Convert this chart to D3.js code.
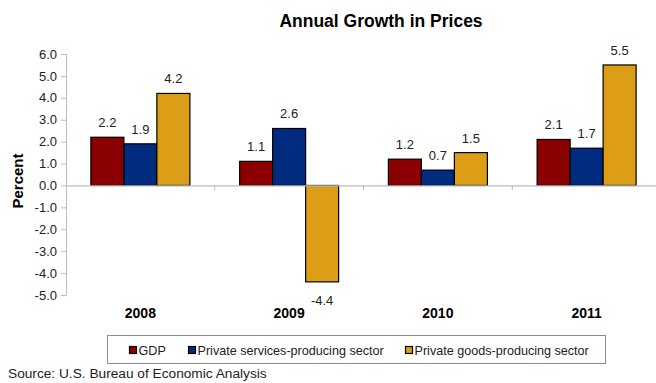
<!DOCTYPE html>
<html>
<head>
<meta charset="utf-8">
<script src="https://cdn.jsdelivr.net/npm/d3@7"></script>
<style>
  html, body { margin: 0; padding: 0; background: #fff; }
  svg { display: block; font-family: "Liberation Sans", Arial, sans-serif; }
</style>
</head>
<body>
<svg id="chart" width="656" height="383"></svg>
<script>
// Annual growth in prices by sector, percent
const years = ["2008", "2009", "2010", "2011"];
const seriesNames = ["GDP", "Private services-producing sector", "Private goods-producing sector"];
const gdp = [2.2, 1.1, 1.2, 2.1];
const services = [1.9, 2.6, 0.7, 1.7];
const goods = [4.2, -4.4, 1.5, 5.5];
const colors = ["#8b0000", "#002b7f", "#db9e16"];
const yTicks = [6, 5, 4, 3, 2, 1, 0, -1, -2, -3, -4, -5];

const seriesValues = [gdp, services, goods];
const rows = years.flatMap((yr, i) =>
  seriesNames.map((s, j) => ({ year: yr, series: s, idx: j, value: seriesValues[j][i] })));

const svg = d3.select("#chart");
const plotLeft = 66, plotRight = 661, plotTop = 54, plotBottom = 295;

const x = d3.scaleBand().domain(years).range([plotLeft, plotRight]);
const inner = d3.scaleBand().domain(seriesNames).range([0, 99]);
const groupOffset = (x.bandwidth() - 99) / 2;
const y = d3.scaleLinear().domain([-5, 6]).range([plotBottom, plotTop]);
const fmt = v => d3.format(".1f")(v).replace("\u2212", "-");

// Title
svg.append("text")
  .attr("x", 381).attr("y", 27)
  .attr("text-anchor", "middle")
  .attr("font-size", 17.5).attr("font-weight", "bold").attr("fill", "#000")
  .text("Annual Growth in Prices");

// Y axis
const yAxis = svg.append("g")
  .attr("transform", `translate(${plotLeft},0)`)
  .call(d3.axisLeft(y).tickValues(yTicks).tickFormat(fmt).tickSize(5).tickPadding(4));
yAxis.select(".domain").attr("stroke", "#bdbdbd");
yAxis.selectAll(".tick line").attr("stroke", "#bdbdbd");
yAxis.selectAll(".tick text")
  .attr("font-size", 13).attr("fill", "#222")
  .attr("font-family", "'Liberation Sans', Arial, sans-serif");

// Y axis title
svg.append("text")
  .attr("transform", "translate(23,181) rotate(-90)")
  .attr("text-anchor", "middle")
  .attr("font-size", 15).attr("font-weight", "bold").attr("fill", "#000")
  .text("Percent");

// Bars
svg.append("g").selectAll("rect")
  .data(rows)
  .join("rect")
  .attr("x", d => x(d.year) + groupOffset + inner(d.series))
  .attr("width", inner.bandwidth())
  .attr("y", d => y(Math.max(0, d.value)))
  .attr("height", d => Math.abs(y(d.value) - y(0)))
  .attr("fill", d => colors[d.idx])
  .attr("stroke", "#000").attr("stroke-width", 1.2);

// Zero baseline with category separator ticks
const xAxis = svg.append("g")
  .attr("transform", `translate(0,${y(0)})`)
  .call(d3.axisBottom(x).tickValues([]).tickSizeOuter(0));
xAxis.select(".domain").attr("stroke", "#bdbdbd").attr("stroke-width", 1.2);
svg.append("g").selectAll("line")
  .data(years.slice(1))
  .join("line")
  .attr("x1", d => x(d)).attr("x2", d => x(d))
  .attr("y1", y(0)).attr("y2", y(0) + 5)
  .attr("stroke", "#bdbdbd");

// Value labels
svg.append("g").selectAll("text")
  .data(rows)
  .join("text")
  .attr("x", d => x(d.year) + groupOffset + inner(d.series) + inner.bandwidth() / 2)
  .attr("y", d => d.value >= 0 ? y(d.value) - 10 : y(d.value) + 23)
  .attr("text-anchor", "middle")
  .attr("font-size", 13).attr("fill", "#222")
  .text(d => fmt(d.value));

// Category labels
svg.append("g").selectAll("text")
  .data(years)
  .join("text")
  .attr("x", d => x(d) + x.bandwidth() / 2)
  .attr("y", 318)
  .attr("text-anchor", "middle")
  .attr("font-size", 14).attr("font-weight", "bold").attr("fill", "#000")
  .text(d => d);

// Legend
const legend = svg.append("g");
legend.append("rect")
  .attr("x", 107.5).attr("y", 335.5).attr("width", 498).attr("height", 28)
  .attr("fill", "#fff").attr("stroke", "#8c8c8c");
const legendX = [129, 188, 405];
const items = legend.selectAll("g.item")
  .data(seriesNames)
  .join("g").attr("class", "item")
  .attr("transform", (d, i) => `translate(${legendX[i]},0)`);
items.append("rect")
  .attr("x", 0.5).attr("y", 346.5).attr("width", 7).attr("height", 7)
  .attr("fill", (d, i) => colors[i]).attr("stroke", "#000").attr("stroke-width", 1.2);
items.append("text")
  .attr("x", 9.5).attr("y", 355)
  .attr("font-size", 12.6).attr("fill", "#222")
  .text(d => d);

// Source note
svg.append("text")
  .attr("x", 8).attr("y", 378)
  .attr("font-size", 13.7).attr("fill", "#222")
  .text("Source: U.S. Bureau of Economic Analysis");
</script>
</body>
</html>
